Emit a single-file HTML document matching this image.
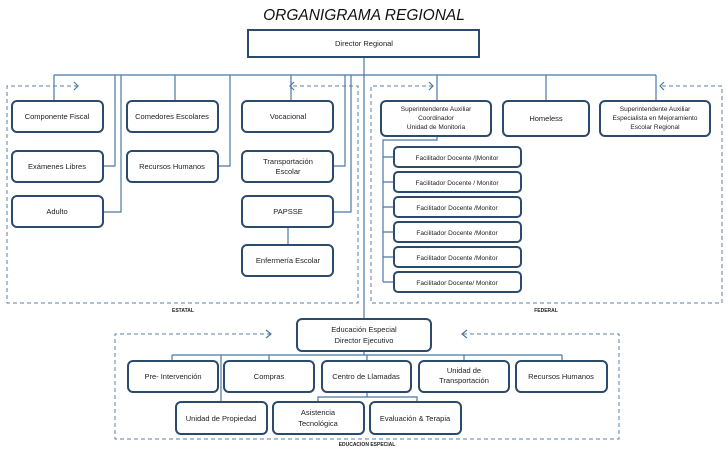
<!DOCTYPE html>
<html><head><meta charset="utf-8"><style>
html,body{margin:0;padding:0;background:#fff;}
svg{display:block;}
text{font-family:"Liberation Sans",sans-serif;fill:#222;}
.b{fill:#fff;stroke:#2c4a6b;stroke-width:2;}
.l{stroke:#4a78a3;stroke-width:1.2;fill:none;}
.d{stroke:#5a82a8;stroke-width:1;fill:none;stroke-dasharray:4,3;}
.t{font-size:7.5px;text-anchor:middle;}
.s{font-size:6.5px;text-anchor:middle;}
.lab{font-size:5px;font-weight:bold;text-anchor:middle;}
</style></head><body>
<svg width="728" height="455" viewBox="0 0 728 455" xmlns="http://www.w3.org/2000/svg">
<text x="364" y="20" style="font-size:15.5px;font-style:italic;text-anchor:middle;fill:#111">ORGANIGRAMA REGIONAL</text>
<path class="l" d="M364 57V319 M54 75H656 M54 75V101 M103 166H115V75 M103 212H121V75 M175 75V101 M218 166H230V75 M291 75V101 M333 166H345V75 M333 212H351V75 M288 227V245 M437 75V101 M546 75V101 M656 75V101 M437 136V140H383V282 M383 157H394 M383 182H394 M383 207H394 M383 232H394 M383 257H394 M383 282H394 M172 355H562 M364 351V355 M172 355V361 M269 355V361 M367 355V361 M464 355V361 M562 355V361 M221 355V402 M367 392V397H318V402 M318 397H417V402"/>
<path class="d" d="M78 86H7V303H358V86H290"/>
<path class="l" d="M74 82L78 86L74 90 M294 82L290 86L294 90"/>
<path class="d" d="M433 86H371V303H722V86H660"/>
<path class="l" d="M429 82L433 86L429 90 M664 82L660 86L664 90"/>
<path class="d" d="M271 334H115V439H619V334H462"/>
<path class="l" d="M266 330L271 334L266 338 M467 330L462 334L467 338"/>
<text class="lab" x="183" y="312">ESTATAL</text>
<text class="lab" x="546" y="312">FEDERAL</text>
<text class="lab" x="367" y="446">EDUCACION ESPECIAL</text>
<rect class="b" x="248" y="30" width="231" height="27"/>
<text class="t" x="364" y="46">Director Regional</text>
<rect class="b" x="12" y="101" width="91" height="31" rx="5"/><text class="t" x="57" y="119">Componente Fiscal</text>
<rect class="b" x="12" y="151" width="91" height="31" rx="5"/><text class="t" x="57" y="169">Exámenes Libres</text>
<rect class="b" x="12" y="196" width="91" height="31" rx="5"/><text class="t" x="57" y="214">Adulto</text>
<rect class="b" x="127" y="101" width="91" height="31" rx="5"/><text class="t" x="172" y="119">Comedores Escolares</text>
<rect class="b" x="127" y="151" width="91" height="31" rx="5"/><text class="t" x="172" y="169">Recursos Humanos</text>
<rect class="b" x="242" y="101" width="91" height="31" rx="5"/><text class="t" x="288" y="119">Vocacional</text>
<rect class="b" x="242" y="151" width="91" height="31" rx="5"/><text class="t" x="288" y="164">Transportación</text><text class="t" x="288" y="174">Escolar</text>
<rect class="b" x="242" y="196" width="91" height="31" rx="5"/><text class="t" x="288" y="214">PAPSSE</text>
<rect class="b" x="242" y="245" width="91" height="31" rx="5"/><text class="t" x="288" y="263">Enfermería Escolar</text>
<rect class="b" x="381" y="101" width="110" height="35" rx="5"/>
<text class="s" x="436" y="111">Superintendente Auxiliar</text><text class="s" x="436" y="120">Coordinador</text><text class="s" x="436" y="129">Unidad de Monitoria</text>
<rect class="b" x="503" y="101" width="86" height="35" rx="5"/><text class="t" x="546" y="121">Homeless</text>
<rect class="b" x="600" y="101" width="110" height="35" rx="5"/>
<text class="s" x="655" y="111">Superintendente  Auxiliar</text><text class="s" x="655" y="120">Especialista en Mejoramiento</text><text class="s" x="655" y="129">Escolar Regional</text>
<rect class="b" x="394" y="147" width="127" height="20" rx="4"/><text class="s" x="457" y="160">Facilitador Docente /|Monitor</text>
<rect class="b" x="394" y="172" width="127" height="20" rx="4"/><text class="s" x="457" y="185">Facilitador Docente / Monitor</text>
<rect class="b" x="394" y="197" width="127" height="20" rx="4"/><text class="s" x="457" y="210">Facilitador Docente /Monitor</text>
<rect class="b" x="394" y="222" width="127" height="20" rx="4"/><text class="s" x="457" y="235">Facilitador Docente /Monitor</text>
<rect class="b" x="394" y="247" width="127" height="20" rx="4"/><text class="s" x="457" y="260">Facilitador Docente  /Monitor</text>
<rect class="b" x="394" y="272" width="127" height="20" rx="4"/><text class="s" x="457" y="285">Facilitador Docente/  Monitor</text>
<rect class="b" x="297" y="319" width="134" height="32" rx="5"/>
<text class="t" x="364" y="332">Educación Especial</text><text class="t" x="364" y="343">Director Ejecutivo</text>
<rect class="b" x="128" y="361" width="90" height="31" rx="5"/><text class="t" x="173" y="379">Pre- Intervención</text>
<rect class="b" x="224" y="361" width="90" height="31" rx="5"/><text class="t" x="269" y="379">Compras</text>
<rect class="b" x="322" y="361" width="89" height="31" rx="5"/><text class="t" x="366" y="379">Centro de Llamadas</text>
<rect class="b" x="419" y="361" width="90" height="31" rx="5"/><text class="t" x="464" y="373">Unidad de</text><text class="t" x="464" y="383">Transportación</text>
<rect class="b" x="516" y="361" width="91" height="31" rx="5"/><text class="t" x="561" y="379">Recursos Humanos</text>
<rect class="b" x="176" y="402" width="91" height="32" rx="5"/><text class="t" x="221" y="421">Unidad de Propiedad</text>
<rect class="b" x="273" y="402" width="91" height="32" rx="5"/><text class="t" x="318" y="415">Asistencia</text><text class="t" x="318" y="426">Tecnológica</text>
<rect class="b" x="370" y="402" width="91" height="32" rx="5"/><text class="t" x="415" y="421">Evaluación &amp; Terapia</text>
</svg>
</body></html>
